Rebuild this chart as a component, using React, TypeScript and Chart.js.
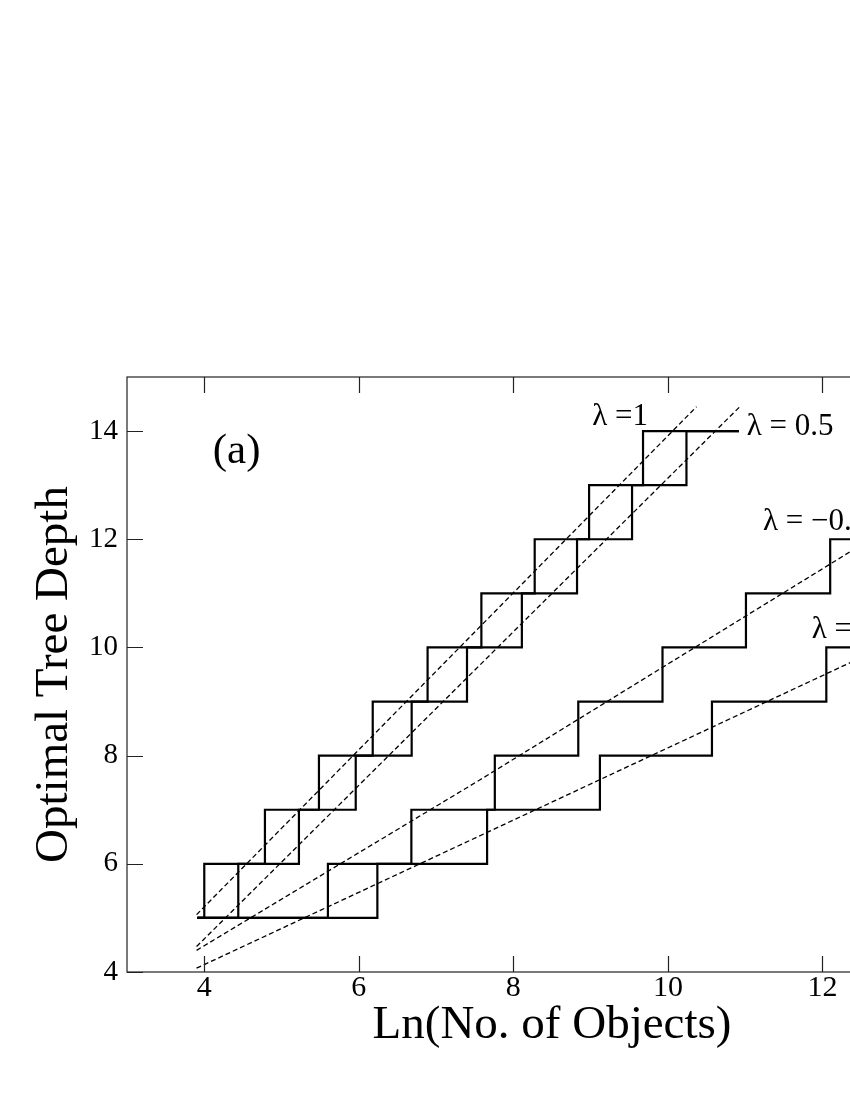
import React, { useEffect, useRef } from "react";
import { Chart, registerables } from "chart.js";

Chart.register(...registerables);

// Staircases: x = Ln(No. of Objects) where the optimal depth steps up, y = depth
const stepL1X = [3.91, 4.0, 4.785, 5.484, 6.18, 6.89, 7.586, 8.276, 8.98, 9.678, 10.92];
const stepL1Y = [5, 6, 7, 8, 9, 10, 11, 12, 13, 14, 14];
const stepL05X = [3.91, 4.44, 5.225, 5.96, 6.684, 7.4, 8.11, 8.824, 9.536, 10.24, 10.92];
const stepL05Y = [5, 6, 7, 8, 9, 10, 11, 12, 13, 14, 14];
const stepLm05X = [3.91, 5.6, 6.68, 7.76, 8.84, 9.93, 11.01, 12.1, 12.45];
const stepLm05Y = [5, 6, 7, 8, 9, 10, 11, 12, 12];
const stepLm1X = [3.91, 6.24, 7.66, 9.12, 10.57, 12.05, 12.45];
const stepLm1Y = [5, 6, 7, 8, 9, 10, 10];

// Dashed fit lines
const fitL1X = [3.9, 10.37];
const fitL1Y = [5.06, 14.45];
const fitL05X = [3.9, 10.93];
const fitL05Y = [4.47, 14.45];
const fitLm05X = [3.9, 7.565, 12.45];
const fitLm05Y = [4.4, 7.55, 11.85];
const fitLm1X = [3.9, 12.45];
const fitLm1Y = [4.07, 9.78];

const xTickValues = [4, 6, 8, 10, 12, 14];
const yTickValues = [4, 6, 8, 10, 12, 14];

const annotationTexts = ["(a)", "λ =1", "λ = 0.5", "λ = −0.5", "λ = −1"];
const annotationX = [4.11, 9.02, 11.02, 11.23, 11.86];
const annotationY = [13.41, 14.11, 13.93, 12.17, 10.18];
const annotationSize = [43, 31, 31, 31, 31];

const FONT = '"Liberation Serif", "Times New Roman", serif';

const toPoints = (xs: number[], ys: number[]) => xs.map((x, i) => ({ x, y: ys[i] }));

const stepDs = (label: string, xs: number[], ys: number[]) => ({
  label,
  data: toPoints(xs, ys),
  stepped: "before" as const,
  borderColor: "#000",
  borderWidth: 2.2,
  pointRadius: 0,
  fill: false,
});

const fitDs = (label: string, xs: number[], ys: number[]) => ({
  label,
  data: toPoints(xs, ys),
  borderColor: "#000",
  borderWidth: 1.3,
  borderDash: [5, 3],
  pointRadius: 0,
  fill: false,
  tension: 0,
});

const framePlugin = {
  id: "framePlugin",
  afterDatasetsDraw(chart: any) {
    const { ctx, chartArea } = chart;
    const xs = chart.scales.x;
    const ys = chart.scales.y;
    const { left, right, top, bottom } = chartArea;
    ctx.save();
    ctx.strokeStyle = "#222";
    ctx.lineWidth = 1.2;
    ctx.strokeRect(left, top, right - left, bottom - top);
    const tl = 16;
    ctx.beginPath();
    xTickValues.forEach((v) => {
      const px = Math.round(xs.getPixelForValue(v)) + 0.5;
      ctx.moveTo(px, bottom);
      ctx.lineTo(px, bottom - tl);
      ctx.moveTo(px, top);
      ctx.lineTo(px, top + tl);
    });
    yTickValues.forEach((v) => {
      const py = Math.round(ys.getPixelForValue(v)) + 0.5;
      ctx.moveTo(left, py);
      ctx.lineTo(left + tl, py);
      ctx.moveTo(right, py);
      ctx.lineTo(right - tl, py);
    });
    ctx.stroke();

    ctx.fillStyle = "#000";
    ctx.textAlign = "left";
    ctx.textBaseline = "alphabetic";
    annotationTexts.forEach((t, i) => {
      ctx.font = `${annotationSize[i]}px ${FONT}`;
      ctx.fillText(t, xs.getPixelForValue(annotationX[i]), ys.getPixelForValue(annotationY[i]));
    });
    ctx.restore();
  },
};

export default function App() {
  const ref = useRef<HTMLCanvasElement | null>(null);

  useEffect(() => {
    if (!ref.current) return;
    const chart = new Chart(ref.current, {
      type: "line",
      data: {
        datasets: [
          stepDs("λ=1", stepL1X, stepL1Y),
          stepDs("λ=0.5", stepL05X, stepL05Y),
          stepDs("λ=-0.5", stepLm05X, stepLm05Y),
          stepDs("λ=-1", stepLm1X, stepLm1Y),
          fitDs("fit λ=1", fitL1X, fitL1Y),
          fitDs("fit λ=0.5", fitL05X, fitL05Y),
          fitDs("fit λ=-0.5", fitLm05X, fitLm05Y),
          fitDs("fit λ=-1", fitLm1X, fitLm1Y),
        ],
      },
      options: {
        responsive: false,
        animation: false,
        events: [],
        layout: { padding: { top: 377, right: 23, bottom: 0, left: 0 } },
        plugins: {
          legend: { display: false },
          tooltip: { enabled: false },
        },
        scales: {
          x: {
            type: "linear",
            position: "bottom",
            min: 3,
            max: 14,
            grid: { display: false, drawTicks: false },
            border: { display: false },
            afterBuildTicks: (s: any) => {
              s.ticks = xTickValues.map((v) => ({ value: v }));
            },
            afterFit: (s: any) => {
              s.height = 128;
            },
            ticks: {
              color: "#000",
              padding: 0,
              maxRotation: 0,
              autoSkip: false,
              font: { family: FONT, size: 30, lineHeight: 1.05 },
            },
            title: {
              display: true,
              text: "Ln(No. of Objects)",
              color: "#000",
              font: { family: FONT, size: 47, lineHeight: 1.2 },
              padding: { top: 0, bottom: 46 },
            },
          },
          y: {
            type: "linear",
            position: "left",
            min: 4,
            max: 15,
            grid: { display: false, drawTicks: false },
            border: { display: false },
            afterBuildTicks: (s: any) => {
              s.ticks = yTickValues.map((v) => ({ value: v }));
            },
            afterFit: (s: any) => {
              s.width = 127;
            },
            ticks: {
              color: "#000",
              padding: 9,
              autoSkip: false,
              font: { family: FONT, size: 29, lineHeight: 1.1 },
            },
            title: {
              display: true,
              text: "Optimal Tree Depth",
              color: "#000",
              font: { family: FONT, size: 47, lineHeight: 1.2 },
              padding: { top: 26, bottom: 0 },
            },
          },
        },
      },
      plugins: [framePlugin],
    });
    return () => chart.destroy();
  }, []);

  return (
    <div
      style={{
        position: "fixed",
        left: 0,
        top: 0,
        width: 850,
        height: 1100,
        overflow: "hidden",
        background: "#fff",
      }}
    >
      <canvas
        ref={ref}
        width={1000}
        height={1100}
        style={{ position: "absolute", left: 0, top: 0, width: 1000, height: 1100 }}
      />
    </div>
  );
}
